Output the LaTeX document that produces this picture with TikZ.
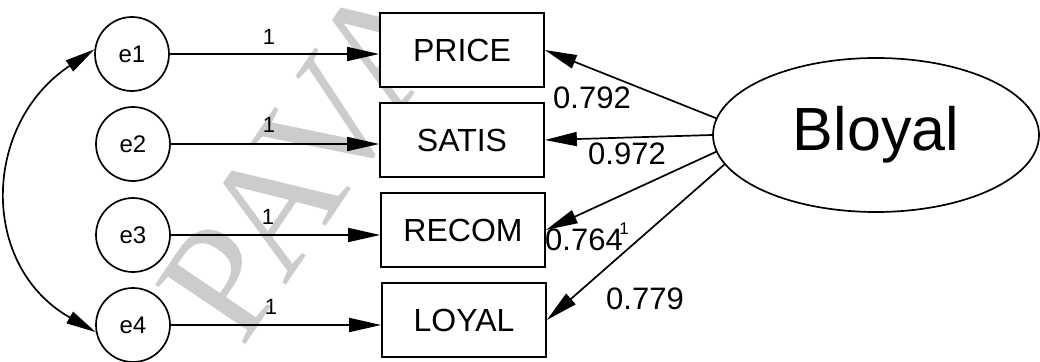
\documentclass[tikz,border=0pt]{standalone}
\usepackage{fontspec}
\setmainfont{Liberation Sans}
\newfontfamily\wmfont{Liberation Serif}
\usetikzlibrary{arrows.meta,shapes.geometric}

\begin{document}
\begin{tikzpicture}[x=1pt,y=-1pt,
  err/.style={draw, circle, line width=1.7pt, minimum size=74pt, inner sep=0pt,
              font=\fontsize{24}{24}\selectfont},
  obs/.style={draw, fill=white, rectangle, line width=1.7pt, minimum width=164pt,
              minimum height=74pt, inner sep=0pt, font=\fontsize{32}{32}\selectfont},
  lat/.style={draw, ellipse, line width=1.7pt, minimum width=326pt,
              minimum height=154pt, inner sep=0pt, font=\fontsize{61}{61}\selectfont},
  link/.style={line width=1.7pt, -{Triangle[length=32pt,width=14pt]}},
  cov/.style={line width=1.7pt, {Triangle[length=30pt,width=13pt]}-{Triangle[length=30pt,width=13pt]}},
  one/.style={inner sep=0pt, font=\fontsize{22}{22}\selectfont},
  est/.style={inner sep=0pt, font=\fontsize{31}{31}\selectfont}]
\useasboundingbox (0,0) rectangle (1040,361);

% watermark behind the model
\node[rotate=56, anchor=base west, text=black!20, inner sep=0pt,
      font=\wmfont\fontsize{165}{165}\selectfont] (wm) at (242,350) {PAVA};

% error terms
\node[err, fill=white] (e1) at (132,54)  {e1};
\node[err, fill=white] (e2) at (133,144) {e2};
\node[err, fill=white] (e3) at (133,235) {e3};
\node[err, fill=white] (e4) at (133,325) {e4};

% observed indicators
\node[obs] (price) at (462,50)  {PRICE};
\node[obs] (satis) at (462,140) {SATIS};
\node[obs] (recom) at (463,230) {RECOM};
\node[obs] (loyal) at (464,320) {LOYAL};

% latent factor
\node[lat] (bl) at (876,135) {Bloyal};

% error paths
\draw[link] (e1.east) -- (e1.east -| price.west);
\draw[link] (e2.east) -- (e2.east -| satis.west);
\draw[link] (e3.east) -- (e3.east -| recom.west);
\draw[link] (e4.east) -- (e4.east -| loyal.west);

\node[one] (o1) at (269,37)  {1};
\node[one] (o2) at (269,125) {1};
\node[one] (o3) at (268,217) {1};
\node[one] (o4) at (271,307) {1};

% loadings
\draw[link] (bl.174) -- (price.east);
\draw[link] (bl.180) -- (satis.east);
\draw[link] (bl.186) -- (recom.east);
\draw[link] (bl.191) -- (loyal.east);

\node[est] (l1) at (592,98)  {0.792};
\node[est] (l2) at (627,154) {0.972};
\node[est] (l3) at (584,240) {0.764};
\node[one, font=\fontsize{17}{17}\selectfont] (o5) at (624,229) {1};
\node[est] (l4) at (645,299) {0.779};

% error covariance
\draw[cov] (e1.173) .. controls (-18,124) and (-21,266) .. (e4.191);
\end{tikzpicture}
\end{document}
